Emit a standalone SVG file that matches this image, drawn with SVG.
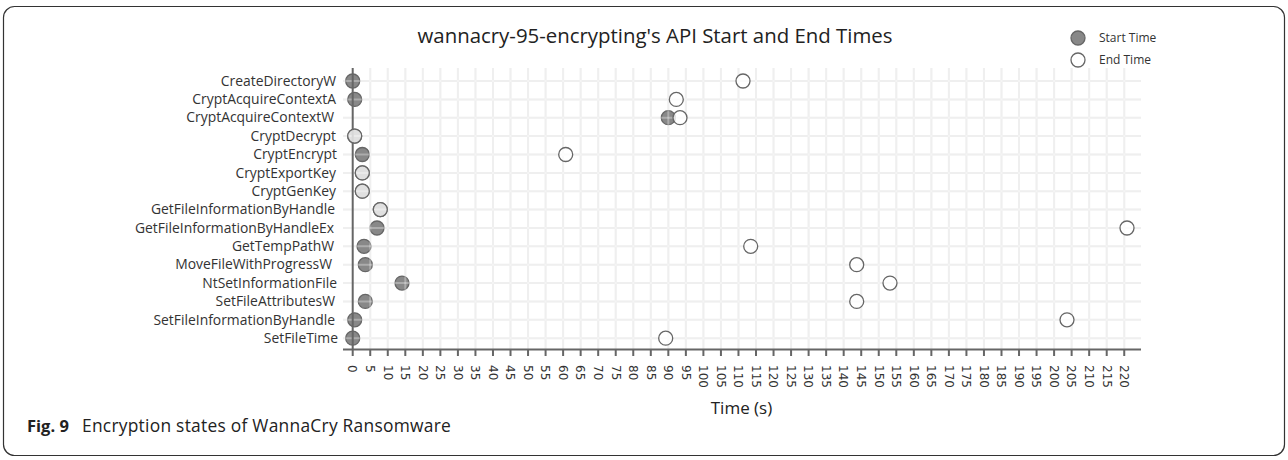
<svg xmlns="http://www.w3.org/2000/svg" xmlns:xlink="http://www.w3.org/1999/xlink" width="1288" height="460" viewBox="0 0 1288 460">
<style>
.lbl{font-family:"Open Sans","DejaVu Sans",sans-serif;font-size:13.9px;fill:#333;text-anchor:end}
.tick{font-family:"DejaVu Sans",sans-serif;font-size:12px;fill:#333}
.title{font-family:"Open Sans","DejaVu Sans",sans-serif;font-size:20.4px;fill:#222;text-anchor:middle}
.leg{font-family:"Open Sans","DejaVu Sans",sans-serif;font-size:12px;fill:#333}
.axt{font-family:"Open Sans","DejaVu Sans",sans-serif;font-size:17px;fill:#222;text-anchor:middle}
.cap{font-family:"Open Sans","Liberation Sans",sans-serif;font-size:16.5px;fill:#222}
.s{fill:#888;stroke:#666;stroke-width:1.3}
.e{fill:#fff;fill-opacity:0.74;stroke:#666;stroke-width:1.3}
.ax{stroke:#666;stroke-width:2;fill:none}
</style>
<defs>
<g id="gridlines" stroke-width="2" fill="none">
<path d="M343,81H1141M343,99.4H1141M343,117.7H1141M343,136.1H1141M343,154.5H1141M343,172.9H1141M343,191.2H1141M343,209.6H1141M343,228H1141M343,246.3H1141M343,264.7H1141M343,283.1H1141M343,301.4H1141M343,319.8H1141M343,338.2H1141"/>
<path d="M370.24,68V349M387.77,68V349M405.31,68V349M422.84,68V349M440.38,68V349M457.91,68V349M475.45,68V349M492.98,68V349M510.52,68V349M528.05,68V349M545.59,68V349M563.12,68V349M580.66,68V349M598.19,68V349M615.73,68V349M633.26,68V349M650.8,68V349M668.33,68V349M685.87,68V349M703.4,68V349M720.94,68V349M738.47,68V349M756.01,68V349M773.54,68V349M791.08,68V349M808.61,68V349M826.15,68V349M843.68,68V349M861.22,68V349M878.75,68V349M896.29,68V349M913.82,68V349M931.36,68V349M948.89,68V349M966.43,68V349M983.96,68V349M1001.5,68V349M1019.03,68V349M1036.57,68V349M1054.1,68V349M1071.64,68V349M1089.17,68V349M1106.71,68V349M1124.24,68V349"/>
</g>
</defs>
<rect id="frame" x="3.5" y="6.5" width="1281" height="449" rx="11" fill="#fff" stroke="#333" stroke-width="1.2"/>
<text class="title" x="655" y="43">wannacry-95-encrypting's API Start and End Times</text>
<g id="legend">
<circle class="s" cx="1078" cy="38" r="7"/>
<text class="leg" x="1099" y="42">Start Time</text>
<circle class="e" cx="1078" cy="60" r="7"/>
<text class="leg" x="1099" y="64">End Time</text>
</g>
<use id="grid" xlink:href="#gridlines" href="#gridlines" stroke="#e9e9e9"/>
<g id="start-times">
<circle class="s" cx="352.7" cy="81" r="7"/>
<circle class="s" cx="354.7" cy="99.4" r="7"/>
<circle class="s" cx="668.3" cy="117.7" r="7"/>
<circle class="s" cx="354.7" cy="136.1" r="7"/>
<circle class="s" cx="362.3" cy="154.5" r="7"/>
<circle class="s" cx="362.3" cy="172.9" r="7"/>
<circle class="s" cx="362.3" cy="191.2" r="7"/>
<circle class="s" cx="380.3" cy="209.6" r="7"/>
<circle class="s" cx="377" cy="228" r="7"/>
<circle class="s" cx="364" cy="246.3" r="7"/>
<circle class="s" cx="365.3" cy="264.7" r="7"/>
<circle class="s" cx="402" cy="283.1" r="7"/>
<circle class="s" cx="365.3" cy="301.4" r="7"/>
<circle class="s" cx="354.7" cy="319.8" r="7"/>
<circle class="s" cx="352.7" cy="338.2" r="7"/>
</g>
<use id="grid-overlay" xlink:href="#gridlines" href="#gridlines" stroke="#fff" stroke-opacity="0.3"/>
<g id="axes">
<path class="ax" d="M352.7,68V350M343,349.5H1141"/>
<path class="ax" d="M352.7,350v6M370.24,350v6M387.77,350v6M405.31,350v6M422.84,350v6M440.38,350v6M457.91,350v6M475.45,350v6M492.98,350v6M510.52,350v6M528.05,350v6M545.59,350v6M563.12,350v6M580.66,350v6M598.19,350v6M615.73,350v6M633.26,350v6M650.8,350v6M668.33,350v6M685.87,350v6M703.4,350v6M720.94,350v6M738.47,350v6M756.01,350v6M773.54,350v6M791.08,350v6M808.61,350v6M826.15,350v6M843.68,350v6M861.22,350v6M878.75,350v6M896.29,350v6M913.82,350v6M931.36,350v6M948.89,350v6M966.43,350v6M983.96,350v6M1001.5,350v6M1019.03,350v6M1036.57,350v6M1054.1,350v6M1071.64,350v6M1089.17,350v6M1106.71,350v6M1124.24,350v6"/>
</g>
<g id="end-times">
<circle class="e" cx="743" cy="81" r="7"/>
<circle class="e" cx="676.3" cy="99.4" r="7"/>
<circle class="e" cx="680" cy="117.7" r="7"/>
<circle class="e" cx="354.7" cy="136.1" r="7"/>
<circle class="e" cx="565.7" cy="154.5" r="7"/>
<circle class="e" cx="362.3" cy="172.9" r="7"/>
<circle class="e" cx="362.3" cy="191.2" r="7"/>
<circle class="e" cx="380.3" cy="209.6" r="7"/>
<circle class="e" cx="1127" cy="228" r="7"/>
<circle class="e" cx="750.7" cy="246.3" r="7"/>
<circle class="e" cx="856.7" cy="264.7" r="7"/>
<circle class="e" cx="890" cy="283.1" r="7"/>
<circle class="e" cx="856.7" cy="301.4" r="7"/>
<circle class="e" cx="1067" cy="319.8" r="7"/>
<circle class="e" cx="665.7" cy="338.2" r="7"/>
</g>
<g id="y-labels">
<text class="lbl" x="336" y="85.7">CreateDirectoryW</text>
<text class="lbl" x="336" y="104.1">CryptAcquireContextA</text>
<text class="lbl" x="334" y="122.4">CryptAcquireContextW</text>
<text class="lbl" x="336" y="140.8">CryptDecrypt</text>
<text class="lbl" x="337" y="159.2">CryptEncrypt</text>
<text class="lbl" x="336" y="177.6">CryptExportKey</text>
<text class="lbl" x="336" y="195.9">CryptGenKey</text>
<text class="lbl" x="335" y="214.3">GetFileInformationByHandle</text>
<text class="lbl" x="334" y="232.7">GetFileInformationByHandleEx</text>
<text class="lbl" x="334" y="251">GetTempPathW</text>
<text class="lbl" x="332" y="269.4">MoveFileWithProgressW</text>
<text class="lbl" x="337" y="287.8">NtSetInformationFile</text>
<text class="lbl" x="335" y="306.1">SetFileAttributesW</text>
<text class="lbl" x="335" y="324.5">SetFileInformationByHandle</text>
<text class="lbl" x="338" y="342.9">SetFileTime</text>
</g>
<g id="x-labels" class="tick">
<text transform="translate(352.7,365) rotate(90)" dy="0.35em">0</text>
<text transform="translate(370.24,365) rotate(90)" dy="0.35em">5</text>
<text transform="translate(387.77,365) rotate(90)" dy="0.35em">10</text>
<text transform="translate(405.31,365) rotate(90)" dy="0.35em">15</text>
<text transform="translate(422.84,365) rotate(90)" dy="0.35em">20</text>
<text transform="translate(440.38,365) rotate(90)" dy="0.35em">25</text>
<text transform="translate(457.91,365) rotate(90)" dy="0.35em">30</text>
<text transform="translate(475.45,365) rotate(90)" dy="0.35em">35</text>
<text transform="translate(492.98,365) rotate(90)" dy="0.35em">40</text>
<text transform="translate(510.52,365) rotate(90)" dy="0.35em">45</text>
<text transform="translate(528.05,365) rotate(90)" dy="0.35em">50</text>
<text transform="translate(545.59,365) rotate(90)" dy="0.35em">55</text>
<text transform="translate(563.12,365) rotate(90)" dy="0.35em">60</text>
<text transform="translate(580.66,365) rotate(90)" dy="0.35em">65</text>
<text transform="translate(598.19,365) rotate(90)" dy="0.35em">70</text>
<text transform="translate(615.73,365) rotate(90)" dy="0.35em">75</text>
<text transform="translate(633.26,365) rotate(90)" dy="0.35em">80</text>
<text transform="translate(650.8,365) rotate(90)" dy="0.35em">85</text>
<text transform="translate(668.33,365) rotate(90)" dy="0.35em">90</text>
<text transform="translate(685.87,365) rotate(90)" dy="0.35em">95</text>
<text transform="translate(703.4,365) rotate(90)" dy="0.35em">100</text>
<text transform="translate(720.94,365) rotate(90)" dy="0.35em">105</text>
<text transform="translate(738.47,365) rotate(90)" dy="0.35em">110</text>
<text transform="translate(756.01,365) rotate(90)" dy="0.35em">115</text>
<text transform="translate(773.54,365) rotate(90)" dy="0.35em">120</text>
<text transform="translate(791.08,365) rotate(90)" dy="0.35em">125</text>
<text transform="translate(808.61,365) rotate(90)" dy="0.35em">130</text>
<text transform="translate(826.15,365) rotate(90)" dy="0.35em">135</text>
<text transform="translate(843.68,365) rotate(90)" dy="0.35em">140</text>
<text transform="translate(861.22,365) rotate(90)" dy="0.35em">145</text>
<text transform="translate(878.75,365) rotate(90)" dy="0.35em">150</text>
<text transform="translate(896.29,365) rotate(90)" dy="0.35em">155</text>
<text transform="translate(913.82,365) rotate(90)" dy="0.35em">160</text>
<text transform="translate(931.36,365) rotate(90)" dy="0.35em">165</text>
<text transform="translate(948.89,365) rotate(90)" dy="0.35em">170</text>
<text transform="translate(966.43,365) rotate(90)" dy="0.35em">175</text>
<text transform="translate(983.96,365) rotate(90)" dy="0.35em">180</text>
<text transform="translate(1001.5,365) rotate(90)" dy="0.35em">185</text>
<text transform="translate(1019.03,365) rotate(90)" dy="0.35em">190</text>
<text transform="translate(1036.57,365) rotate(90)" dy="0.35em">195</text>
<text transform="translate(1054.1,365) rotate(90)" dy="0.35em">200</text>
<text transform="translate(1071.64,365) rotate(90)" dy="0.35em">205</text>
<text transform="translate(1089.17,365) rotate(90)" dy="0.35em">210</text>
<text transform="translate(1106.71,365) rotate(90)" dy="0.35em">215</text>
<text transform="translate(1124.24,365) rotate(90)" dy="0.35em">220</text>
</g>
<text class="axt" x="741.5" y="414">Time (s)</text>
<text class="cap" x="27" y="432"><tspan font-weight="bold">Fig. 9</tspan><tspan x="82" font-size="17.4px" letter-spacing="0.25px">Encryption states of WannaCry Ransomware</tspan></text>
</svg>
